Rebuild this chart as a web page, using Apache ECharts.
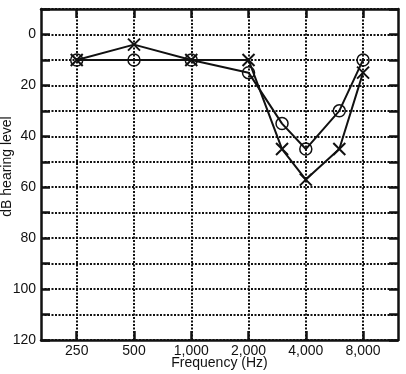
<!DOCTYPE html>
<html>
<head>
<meta charset="utf-8">
<script src="https://cdn.jsdelivr.net/npm/echarts@6/dist/echarts.min.js"></script>
<style>
  html, body { margin: 0; padding: 0; background: #fff; }
  #chart { width: 406px; height: 374px; }
</style>
</head>
<body>
<div id="chart"></div>
<script>
// audiogram data
const freqs = [250, 500, 1000, 2000, 3000, 4000, 6000, 8000];
const circleLevels = [10, 10, 10, 15, 35, 45, 30, 10];
const crossLevels = [10, 4, 10, 10, 45, 57, 45, 15];
const freqTicks = [250, 500, 1000, 2000, 4000, 8000];
const freqLabels = ["250", "500", "1,000", "2,000", "4,000", "8,000"];

// x in octaves above 250 Hz
const oct = (f) => Math.log2(f / 250);
const tickPos = freqTicks.map(oct);

const font = "Liberation Sans";
const ink = "#111";

const borderLine = { show: true, onZero: false, lineStyle: { color: ink, width: 2.5 } };
const innerTick = { show: true, inside: true, length: 9, lineStyle: { color: ink, width: 2.5 } };
const dotted = { show: true, lineStyle: { color: ink, width: 2, type: [2, 1.5] } };

const chart = echarts.init(document.getElementById("chart"));
chart.setOption({
  animation: false,
  grid: { left: 41, right: 8, top: 9, bottom: 34, outerBoundsMode: "none" },
  xAxis: [
    {
      type: "value",
      min: -0.624,
      max: 5.61,
      position: "bottom",
      axisLine: borderLine,
      axisTick: Object.assign({ customValues: tickPos }, innerTick),
      axisLabel: {
        customValues: tickPos,
        margin: 4,
        color: ink,
        fontFamily: font,
        fontSize: 14,
        formatter: (v) => {
          const i = tickPos.findIndex((p) => Math.abs(p - v) < 1e-6);
          return i >= 0 ? freqLabels[i] : "";
        },
      },
      splitLine: dotted,
      name: "Frequency (Hz)",
      nameLocation: "middle",
      nameGap: 16,
      nameMoveOverlap: false,
      nameTextStyle: { color: ink, fontFamily: font, fontSize: 14, verticalAlign: "top" },
    },
    {
      type: "value",
      min: -0.624,
      max: 5.61,
      position: "top",
      axisLine: borderLine,
      axisTick: Object.assign({ customValues: tickPos }, innerTick),
      axisLabel: { show: false },
      splitLine: { show: false },
    },
  ],
  yAxis: [
    {
      type: "value",
      inverse: true,
      min: -10,
      max: 120,
      interval: 10,
      position: "left",
      axisLine: borderLine,
      axisTick: innerTick,
      axisLabel: {
        margin: 5,
        color: ink,
        fontFamily: font,
        fontSize: 14,
        formatter: (v) => (v % 20 === 0 && v >= 0 ? String(v) : ""),
      },
      splitLine: dotted,
      name: "dB hearing level",
      nameLocation: "middle",
      nameGap: 27,
      nameMoveOverlap: false,
      nameTextStyle: { color: ink, fontFamily: font, fontSize: 14, padding: [0, 0, 0, 16] },
    },
    {
      type: "value",
      inverse: true,
      min: -10,
      max: 120,
      interval: 10,
      position: "right",
      axisLine: borderLine,
      axisTick: innerTick,
      axisLabel: { show: false },
      splitLine: { show: false },
    },
  ],
  series: [
    {
      type: "line",
      data: freqs.map((f, i) => [oct(f), circleLevels[i]]),
      symbol: "circle",
      symbolSize: 12,
      lineStyle: { color: ink, width: 2 },
      itemStyle: { color: "rgba(0,0,0,0)", borderColor: ink, borderWidth: 1.5 },
      z: 3,
    },
    {
      type: "line",
      data: freqs.map((f, i) => [oct(f), crossLevels[i]]),
      symbol: "path://M0,0L10,10M10,0L0,10",
      symbolSize: 12,
      lineStyle: { color: ink, width: 2 },
      itemStyle: { color: "rgba(0,0,0,0)", borderColor: ink, borderWidth: 2 },
      z: 4,
    },
  ],
});
</script>
</body>
</html>
